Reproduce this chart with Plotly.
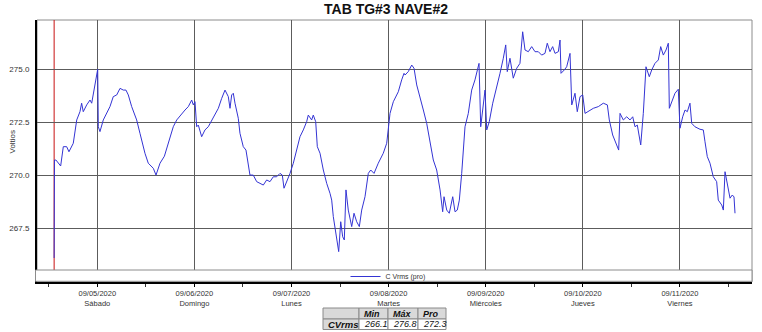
import plotly.graph_objects as go

# ---------------- data ----------------
timestamps = [
    "2020-09-04 13:20", "2020-09-04 13:25", "2020-09-04 13:47", "2020-09-04 14:22", "2020-09-04 14:57",
    "2020-09-04 15:36", "2020-09-04 16:26", "2020-09-04 17:00", "2020-09-04 17:40", "2020-09-04 18:04",
    "2020-09-04 18:55", "2020-09-04 19:43", "2020-09-04 20:08", "2020-09-04 20:32", "2020-09-04 21:23",
    "2020-09-04 22:12", "2020-09-04 22:37", "2020-09-04 23:01", "2020-09-04 23:51",
    "2020-09-05 00:06", "2020-09-05 00:15", "2020-09-05 00:40", "2020-09-05 01:29", "2020-09-05 02:19",
    "2020-09-05 03:08", "2020-09-05 03:57", "2020-09-05 04:48", "2020-09-05 05:37", "2020-09-05 06:26",
    "2020-09-05 07:05", "2020-09-05 07:40", "2020-09-05 08:30", "2020-09-05 09:44", "2020-09-05 10:33",
    "2020-09-05 11:47", "2020-09-05 12:36", "2020-09-05 13:51", "2020-09-05 14:31", "2020-09-05 15:30",
    "2020-09-05 16:35", "2020-09-05 17:33", "2020-09-05 18:47", "2020-09-05 19:38", "2020-09-05 20:52",
    "2020-09-05 21:41", "2020-09-05 22:30", "2020-09-05 23:20", "2020-09-05 23:44",
    "2020-09-06 00:09", "2020-09-06 00:34", "2020-09-06 00:58", "2020-09-06 01:48", "2020-09-06 02:37",
    "2020-09-06 03:26", "2020-09-06 04:17", "2020-09-06 05:05", "2020-09-06 05:55", "2020-09-06 06:45",
    "2020-09-06 07:34", "2020-09-06 08:23", "2020-09-06 08:48", "2020-09-06 09:13", "2020-09-06 09:37",
    "2020-09-06 10:02", "2020-09-06 10:51", "2020-09-06 11:16", "2020-09-06 12:05", "2020-09-06 12:45",
    "2020-09-06 13:44", "2020-09-06 14:33", "2020-09-06 15:24", "2020-09-06 16:13", "2020-09-06 17:02",
    "2020-09-06 17:52", "2020-09-06 18:41", "2020-09-06 19:30", "2020-09-06 20:20", "2020-09-06 21:10",
    "2020-09-06 21:44", "2020-09-06 22:09", "2020-09-06 22:49", "2020-09-06 23:38",
    "2020-09-07 00:27", "2020-09-07 01:17", "2020-09-07 02:06", "2020-09-07 02:55", "2020-09-07 03:45",
    "2020-09-07 04:09", "2020-09-07 04:59", "2020-09-07 05:23", "2020-09-07 05:59", "2020-09-07 06:23",
    "2020-09-07 07:03", "2020-09-07 07:52", "2020-09-07 08:42", "2020-09-07 09:31", "2020-09-07 09:56",
    "2020-09-07 10:20", "2020-09-07 11:10", "2020-09-07 11:40", "2020-09-07 12:10", "2020-09-07 12:39",
    "2020-09-07 13:03", "2020-09-07 13:28", "2020-09-07 14:02", "2020-09-07 14:53", "2020-09-07 15:27",
    "2020-09-07 16:07", "2020-09-07 16:46", "2020-09-07 17:21", "2020-09-07 18:10", "2020-09-07 18:59",
    "2020-09-07 19:35", "2020-09-07 20:24", "2020-09-07 21:27", "2020-09-07 22:41", "2020-09-07 23:32",
    "2020-09-08 00:21", "2020-09-08 01:10", "2020-09-08 02:24", "2020-09-08 03:14", "2020-09-08 03:49",
    "2020-09-08 04:04", "2020-09-08 04:52", "2020-09-08 05:43", "2020-09-08 06:17", "2020-09-08 06:57",
    "2020-09-08 07:46", "2020-09-08 08:35", "2020-09-08 09:25", "2020-09-08 10:14", "2020-09-08 11:03",
    "2020-09-08 11:53", "2020-09-08 12:43", "2020-09-08 13:22", "2020-09-08 13:42", "2020-09-08 14:22",
    "2020-09-08 15:00", "2020-09-08 15:51", "2020-09-08 16:25", "2020-09-08 16:59", "2020-09-08 17:29",
    "2020-09-08 18:04", "2020-09-08 18:53", "2020-09-08 19:42", "2020-09-08 20:32", "2020-09-08 21:21",
    "2020-09-08 21:55", "2020-09-08 22:21", "2020-09-08 22:46", "2020-09-08 23:25", "2020-09-08 23:50",
    "2020-09-09 00:15", "2020-09-09 00:53", "2020-09-09 01:44", "2020-09-09 02:43", "2020-09-09 03:32",
    "2020-09-09 04:21", "2020-09-09 04:57", "2020-09-09 05:20", "2020-09-09 06:00", "2020-09-09 06:49",
    "2020-09-09 07:40", "2020-09-09 08:28", "2020-09-09 09:08", "2020-09-09 09:43", "2020-09-09 10:32",
    "2020-09-09 11:22", "2020-09-09 12:11", "2020-09-09 13:00", "2020-09-09 13:50", "2020-09-09 14:39",
    "2020-09-09 15:13", "2020-09-09 15:53", "2020-09-09 16:33", "2020-09-09 17:08", "2020-09-09 17:57",
    "2020-09-09 18:22", "2020-09-09 18:37", "2020-09-09 19:26", "2020-09-09 20:01", "2020-09-09 20:50",
    "2020-09-09 21:01", "2020-09-09 21:16", "2020-09-09 22:04", "2020-09-09 22:38", "2020-09-09 23:19",
    "2020-09-09 23:59",
    "2020-09-10 00:33", "2020-09-10 01:22", "2020-09-10 02:36", "2020-09-10 03:50", "2020-09-10 05:04",
    "2020-09-10 06:04", "2020-09-10 06:33", "2020-09-10 07:23", "2020-09-10 08:23", "2020-09-10 08:52",
    "2020-09-10 09:12", "2020-09-10 10:01", "2020-09-10 10:51", "2020-09-10 11:40", "2020-09-10 12:20",
    "2020-09-10 12:54", "2020-09-10 13:28", "2020-09-10 14:19", "2020-09-10 14:57", "2020-09-10 15:37",
    "2020-09-10 16:26", "2020-09-10 17:02", "2020-09-10 17:50", "2020-09-10 18:40", "2020-09-10 19:15",
    "2020-09-10 19:54", "2020-09-10 20:34", "2020-09-10 21:08", "2020-09-10 21:23", "2020-09-10 21:58",
    "2020-09-10 22:47", "2020-09-10 23:36",
    "2020-09-11 00:01", "2020-09-11 00:41", "2020-09-11 01:16", "2020-09-11 01:50", "2020-09-11 02:29",
    "2020-09-11 02:55", "2020-09-11 03:43", "2020-09-11 04:58", "2020-09-11 05:47", "2020-09-11 06:12",
    "2020-09-11 06:46", "2020-09-11 07:26", "2020-09-11 08:15", "2020-09-11 09:05", "2020-09-11 09:29",
    "2020-09-11 10:20", "2020-09-11 10:44", "2020-09-11 11:09", "2020-09-11 11:43", "2020-09-11 12:23",
    "2020-09-11 12:57", "2020-09-11 13:22", "2020-09-11 13:37",
]

vrms = [
    266.10, 270.72, 270.72, 270.57, 270.44,
    271.35, 271.35, 271.11, 271.35, 271.51,
    272.61, 273.00, 273.40, 273.00, 273.32,
    273.55, 273.40, 273.79, 274.65,
    275.00, 272.29, 272.06, 272.61, 272.92,
    273.24, 273.71, 273.79, 274.10, 274.02,
    274.02, 273.79, 273.24, 272.61, 271.98,
    271.04, 270.57, 270.33, 270.01, 270.57,
    270.90, 271.51, 272.29, 272.61, 272.92,
    273.08, 273.24, 273.55, 273.32,
    273.47, 272.29, 272.37, 271.82, 272.14,
    272.29, 272.61, 272.92, 273.16, 273.63,
    274.02, 273.71, 273.16, 273.79, 273.87,
    273.40, 272.69, 271.98, 271.35, 271.19,
    270.01, 270.01, 269.70, 269.62, 269.54,
    269.78, 269.70, 269.93, 269.93, 270.09,
    270.01, 269.39, 269.70, 270.09,
    270.57, 271.19, 271.82, 272.14, 272.53,
    272.84, 272.61, 272.84, 272.53, 271.35,
    271.04, 270.25, 269.62, 269.15, 268.83,
    268.05, 267.03, 266.40, 267.81, 267.10,
    266.95, 269.31, 268.36, 267.58, 268.21,
    267.81, 267.58, 268.36, 268.99, 270.09,
    270.25, 270.09, 270.57, 271.04, 271.51,
    272.92, 273.47, 273.94, 274.50, 274.81,
    274.73, 274.89, 275.20, 275.05, 274.26,
    273.71, 273.08, 272.45, 271.51, 270.72,
    270.25, 269.31, 268.28, 268.99, 268.36,
    268.21, 268.99, 268.28, 268.36, 268.83,
    270.09, 272.29, 272.92, 274.02, 274.50,
    274.89, 275.28, 272.29, 273.40, 274.02,
    272.14, 272.53, 273.40, 274.26, 274.81,
    275.52, 276.15, 274.89, 275.52, 274.58,
    275.05, 275.28, 276.77, 275.91, 275.83,
    276.07, 275.83, 275.83, 275.67, 275.75,
    276.23, 275.83, 276.07, 275.75, 275.83,
    276.38, 274.81, 274.97, 275.12, 275.75,
    274.50, 273.32, 273.87, 273.00, 273.71,
    273.79,
    272.92, 273.00, 273.16, 273.24, 273.40,
    273.32, 272.61, 271.90, 271.43, 271.19,
    272.92, 272.61, 272.76, 272.61, 272.76,
    272.29, 272.37, 271.43, 272.92, 275.12,
    274.65, 274.97, 275.28, 275.44, 276.07,
    275.67, 275.91, 276.23, 273.16, 273.47,
    273.87, 274.06,
    272.22, 272.76, 273.08, 273.00, 273.40,
    272.45, 272.29, 272.17, 272.14, 271.58,
    270.88, 270.57, 269.93, 269.70, 268.83,
    268.60, 268.36, 270.17, 269.62, 268.92,
    269.07, 268.98, 268.21,
]

day_ticks = ["2020-09-05", "2020-09-06", "2020-09-07", "2020-09-08",
             "2020-09-09", "2020-09-10", "2020-09-11"]
day_dates = ["09/05/2020", "09/06/2020", "09/07/2020", "09/08/2020",
             "09/09/2020", "09/10/2020", "09/11/2020"]
day_names = ["Sábado", "Domingo", "Lunes", "Martes", "Miércoles", "Jueves", "Viernes"]
y_ticks = [267.5, 270.0, 272.5, 275.0]

title_text = "TAB TG#3 NAVE#2"
y_title = "Voltios"
series_name = "C Vrms (pro)"
stats_row = "CVrms"
stats_headers = ["Min", "Máx", "Pro"]
stats_values = [266.1, 276.8, 272.3]

# ---------------- layout geometry ----------------
W, H = 762, 332
PL, PR, PT, PB = 37, 752, 20, 282   # plot frame in px
STRIP_TOP = 270                     # grid area ends here; legend strip below
FONT = "Liberation Sans, Arial, sans-serif"

# statistics table geometry (px)
TBL_COLS = [323, 359, 388, 418, 446]
TBL_ROWS = [308, 319, 329.5]


def px_x(p):
    return p / W


def px_y(p):
    return (H - p) / H


x_range = ["2020-09-04 09:06", "2020-09-11 17:49"]
y_range = [264.967, 277.325]

fig = go.Figure()

fig.add_trace(go.Scatter(
    x=timestamps, y=vrms, mode="lines", name=series_name,
    line=dict(color="#3434d4", width=1),
    showlegend=True,
))

tick_text = [f"{d}<br>{n}" for d, n in zip(day_dates, day_names)]

shapes = [
    # outer gray frame of the plot
    dict(type="rect", xref="paper", yref="paper",
         x0=px_x(PL), x1=px_x(PR), y0=px_y(PB), y1=px_y(PT),
         line=dict(color="#8c8c8c", width=1), fillcolor="rgba(0,0,0,0)", layer="below"),
    # legend strip (covers grid lines below the grid area)
    dict(type="rect", xref="paper", yref="paper",
         x0=px_x(35.5), x1=px_x(PR), y0=px_y(281.3), y1=px_y(STRIP_TOP),
         line=dict(color="#8c8c8c", width=1), fillcolor="white", layer="above"),
    # red start marker at the beginning of the record
    dict(type="line", xref="x", yref="paper",
         x0=timestamps[0], x1=timestamps[0], y0=px_y(STRIP_TOP), y1=px_y(PT),
         line=dict(color="#c81010", width=1), layer="below"),
]

annotations = [dict(text=y_title, textangle=-90, x=px_x(5), y=px_y(142),
                    xref="paper", yref="paper", showarrow=False,
                    font=dict(family=FONT, size=8, color="#333333"))]

# statistics table drawn as cells
header_cells = [""] + [f"<b><i>{h}</i></b>" for h in stats_headers]
row_cells = [f"<b><i>{stats_row}</i></b>"] + [f"<i>{v:.1f}</i>" for v in stats_values]
for r, cells in enumerate([header_cells, row_cells]):
    for c, txt in enumerate(cells):
        gray = (r == 0) or (c == 0)
        shapes.append(dict(
            type="rect", xref="paper", yref="paper",
            x0=px_x(TBL_COLS[c]), x1=px_x(TBL_COLS[c + 1]),
            y0=px_y(TBL_ROWS[r + 1]), y1=px_y(TBL_ROWS[r]),
            line=dict(color="#8a8a8a", width=1),
            fillcolor="#d9d9d9" if gray else "white", layer="above"))
        if txt:
            annotations.append(dict(
                text=txt, x=px_x(TBL_COLS[c] + 3), xanchor="left",
                y=px_y((TBL_ROWS[r] + TBL_ROWS[r + 1]) / 2), yanchor="middle",
                xref="paper", yref="paper", showarrow=False,
                font=dict(family=FONT, size=9.5 if (c == 0) else 9, color="#111111")))

fig.update_layout(
    width=W, height=H,
    margin=dict(l=0, r=0, t=0, b=0, autoexpand=False),
    paper_bgcolor="white", plot_bgcolor="white",
    font=dict(family=FONT, size=8, color="#333333"),
    title=dict(text=f"<b>{title_text}</b>", x=px_x(386), xanchor="center",
               y=px_y(9), yanchor="middle", yref="container",
               font=dict(family=FONT, size=14, color="#111111")),
    showlegend=True,
    legend=dict(x=px_x(388), xanchor="center", y=px_y(276.5), yanchor="middle",
                orientation="h", bgcolor="rgba(0,0,0,0)",
                font=dict(family=FONT, size=7, color="#333333"),
                itemwidth=30, tracegroupgap=0),
    shapes=shapes,
    annotations=annotations,
    xaxis=dict(
        type="date", range=x_range,
        domain=[px_x(PL), px_x(PR)],
        tickvals=day_ticks, ticktext=tick_text,
        tickfont=dict(family=FONT, size=7.5, color="#333333"),
        showgrid=True, gridcolor="#5c5c5c", gridwidth=1,
        showline=True, linecolor="black", linewidth=2,
        ticks="outside", ticklen=3, tickcolor="black", tickwidth=1,
        minor=dict(ticks="outside", ticklen=3, tickcolor="#333333", dtick=12 * 3600 * 1000,
                   tick0="2020-09-04", showgrid=False),
        zeroline=False, automargin=False, fixedrange=True,
    ),
    yaxis=dict(
        range=y_range,
        domain=[px_y(PB), px_y(PT)],
        tickvals=y_ticks, tickformat=".1f",
        tickfont=dict(family=FONT, size=8, color="#333333"),
        showgrid=True, gridcolor="#5c5c5c", gridwidth=1,
        showline=True, linecolor="black", linewidth=2,
        ticks="", ticklabelstandoff=4,
        zeroline=False, automargin=False, fixedrange=True,
    ),
)

fig.write_html("out.html")
